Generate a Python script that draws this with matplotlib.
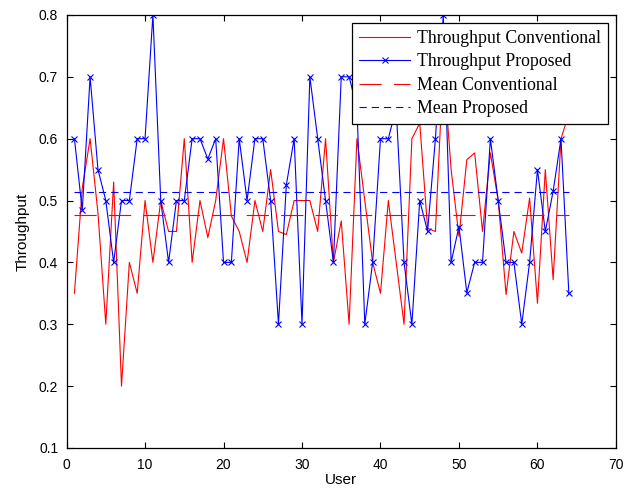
import matplotlib
matplotlib.use("Agg")
import matplotlib.pyplot as plt
import numpy as np

# ----------------------------- data ------------------------------------ #

users = np.arange(1, 65)

throughput_conventional = [
    0.35, 0.52, 0.60, 0.48, 0.30, 0.53, 0.20, 0.40, 0.35, 0.50,
    0.40, 0.50, 0.45, 0.45, 0.60, 0.40, 0.50, 0.44, 0.50, 0.60,
    0.475, 0.45, 0.40, 0.50, 0.45, 0.55, 0.45, 0.445, 0.50, 0.50,
    0.50, 0.45, 0.60, 0.40, 0.467, 0.30, 0.60, 0.50, 0.40, 0.35,
    0.50, 0.40, 0.30, 0.60, 0.625, 0.455, 0.45, 0.72, 0.55, 0.442,
    0.566, 0.577, 0.45, 0.577, 0.50, 0.348, 0.45, 0.415, 0.504, 0.334,
    0.55, 0.372, 0.60, 0.64,
]

throughput_proposed = [
    0.60, 0.484, 0.70, 0.55, 0.50, 0.40, 0.50, 0.50, 0.60, 0.60,
    0.80, 0.50, 0.40, 0.50, 0.50, 0.60, 0.60, 0.567, 0.60, 0.40,
    0.40, 0.60, 0.50, 0.60, 0.60, 0.50, 0.30, 0.525, 0.60, 0.30,
    0.70, 0.60, 0.50, 0.40, 0.70, 0.70, 0.65, 0.30, 0.40, 0.60,
    0.60, 0.65, 0.40, 0.30, 0.50, 0.45, 0.60, 0.80, 0.40, 0.458,
    0.351, 0.40, 0.40, 0.60, 0.50, 0.40, 0.40, 0.30, 0.40, 0.55,
    0.45, 0.515, 0.60, 0.35,
]

mean_conventional = 0.476
mean_proposed = 0.513

x_ticks = [0, 10, 20, 30, 40, 50, 60, 70]
y_ticks = [0.1, 0.2, 0.3, 0.4, 0.5, 0.6, 0.7, 0.8]

# ----------------------------- plot ------------------------------------ #

fig = plt.figure(figsize=(6.25, 4.91), dpi=100)
ax = fig.add_axes([0.1065, 0.0876, 0.879, 0.882])

ax.plot(users, throughput_conventional, color="red", linewidth=0.8,
        label="Throughput Conventional")
ax.plot(users, throughput_proposed, color="blue", linewidth=0.8,
        marker="x", markersize=4.5, markeredgewidth=0.8,
        label="Throughput Proposed")
ax.plot([users[0], users[-1]], [mean_conventional] * 2, color="red",
        linewidth=0.8, linestyle=(0, (20, 11)), label="Mean Conventional")
ax.plot([users[0], users[-1]], [mean_proposed] * 2, color="blue",
        linewidth=0.8, linestyle=(0, (6.5, 4.5)), label="Mean Proposed")

ax.set_xlim(0, 70)
ax.set_ylim(0.1, 0.8)
ax.set_xticks(x_ticks)
ax.set_yticks(y_ticks)
ax.set_xticklabels([str(t) for t in x_ticks], family="Liberation Sans", fontsize=10)
ax.set_yticklabels([f"{t:g}" for t in y_ticks], family="Liberation Sans", fontsize=10)
ax.tick_params(direction="in", length=4, width=0.8, top=True, right=True)
ax.tick_params(axis="x", pad=7)
ax.tick_params(axis="y", pad=6)
for s in ax.spines.values():
    s.set_linewidth(0.9)

ax.set_xlabel("User", family="Liberation Sans", fontsize=11, labelpad=1)
ax.set_ylabel("Throughput", family="Liberation Sans", fontsize=11, labelpad=7)

# legend sits over the data, like the MATLAB box
leg = ax.legend(loc="upper right", bbox_to_anchor=(0.9728, 0.9525),
                bbox_transform=fig.transFigure, borderaxespad=0,
                fancybox=False, framealpha=1, edgecolor="black",
                prop={"family": "Liberation Serif", "size": 12.75},
                handlelength=2.9, handletextpad=0.4, labelspacing=0.36,
                borderpad=0.38)
leg.get_frame().set_linewidth(0.9)

fig.savefig("out.png", dpi=100)
